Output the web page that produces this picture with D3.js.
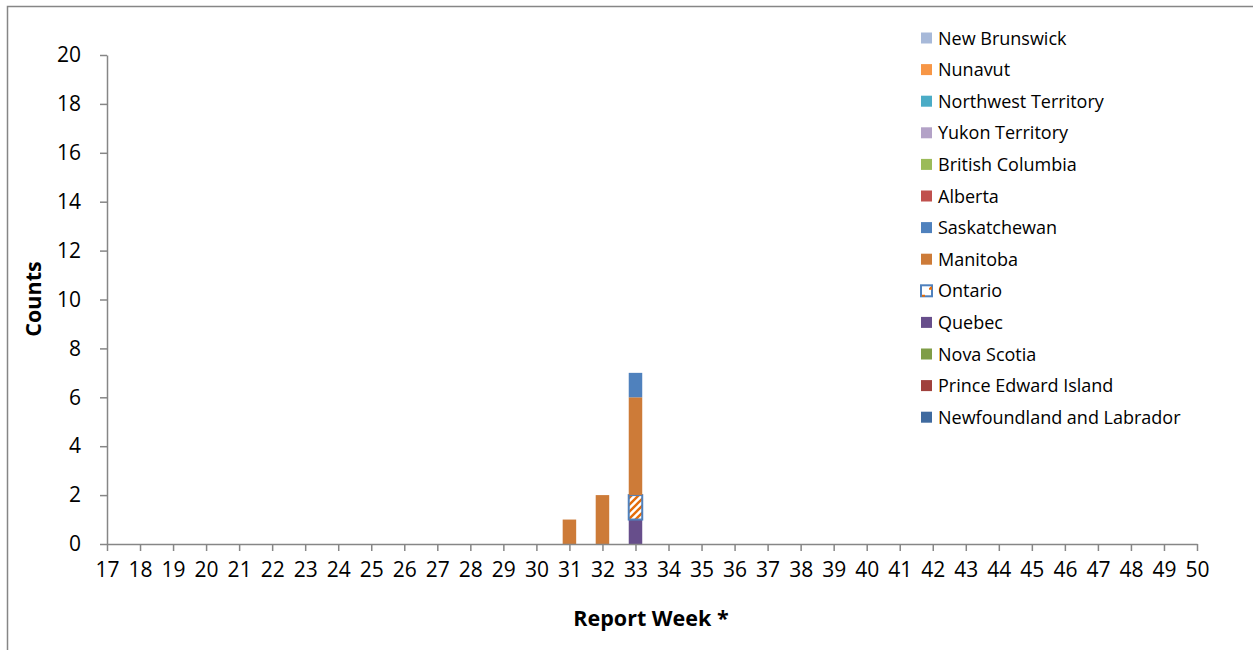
<!DOCTYPE html>
<html>
<head>
  <script src="https://d3js.org/d3.v7.min.js"></script>
  <style>
    body { margin: 0; background: #fff; }
    text { font-family: "Open Sans", sans-serif; fill: #000; }
  </style>
</head>
<body>
  <svg id="svg" width="1253" height="650"></svg>
  <script>
    // ************************ Data ************************
    const weeks = [17, 18, 19, 20, 21, 22, 23, 24, 25, 26, 27, 28, 29, 30, 31, 32, 33,
                   34, 35, 36, 37, 38, 39, 40, 41, 42, 43, 44, 45, 46, 47, 48, 49, 50];
    const yTicks = [0, 2, 4, 6, 8, 10, 12, 14, 16, 18, 20];

    // stacking order, bottom to top (legend shows it reversed)
    const provinces = ["Newfoundland and Labrador", "Prince Edward Island", "Nova Scotia", "Quebec",
      "Ontario", "Manitoba", "Saskatchewan", "Alberta", "British Columbia", "Yukon Territory",
      "Northwest Territory", "Nunavut", "New Brunswick"];
    const colors = ["#3F6A9F", "#A0413D", "#7F9D47", "#674E8B",
      "url(#ontarioPattern)", "#CD7B38", "#4F81BD", "#C0504D", "#9BBB59", "#B3A2C7",
      "#4BACC6", "#F79646", "#A7B9D9"];

    // counts per week, weeks 17..50
    const newfoundland = [0,0,0,0,0,0,0,0,0,0,0,0,0,0,0,0,0,0,0,0,0,0,0,0,0,0,0,0,0,0,0,0,0,0];
    const pei          = [0,0,0,0,0,0,0,0,0,0,0,0,0,0,0,0,0,0,0,0,0,0,0,0,0,0,0,0,0,0,0,0,0,0];
    const novaScotia   = [0,0,0,0,0,0,0,0,0,0,0,0,0,0,0,0,0,0,0,0,0,0,0,0,0,0,0,0,0,0,0,0,0,0];
    const quebec       = [0,0,0,0,0,0,0,0,0,0,0,0,0,0,0,0,1,0,0,0,0,0,0,0,0,0,0,0,0,0,0,0,0,0];
    const ontario      = [0,0,0,0,0,0,0,0,0,0,0,0,0,0,0,0,1,0,0,0,0,0,0,0,0,0,0,0,0,0,0,0,0,0];
    const manitoba     = [0,0,0,0,0,0,0,0,0,0,0,0,0,0,1,2,4,0,0,0,0,0,0,0,0,0,0,0,0,0,0,0,0,0];
    const saskatchewan = [0,0,0,0,0,0,0,0,0,0,0,0,0,0,0,0,1,0,0,0,0,0,0,0,0,0,0,0,0,0,0,0,0,0];
    const alberta      = [0,0,0,0,0,0,0,0,0,0,0,0,0,0,0,0,0,0,0,0,0,0,0,0,0,0,0,0,0,0,0,0,0,0];
    const bc           = [0,0,0,0,0,0,0,0,0,0,0,0,0,0,0,0,0,0,0,0,0,0,0,0,0,0,0,0,0,0,0,0,0,0];
    const yukon        = [0,0,0,0,0,0,0,0,0,0,0,0,0,0,0,0,0,0,0,0,0,0,0,0,0,0,0,0,0,0,0,0,0,0];
    const nwt          = [0,0,0,0,0,0,0,0,0,0,0,0,0,0,0,0,0,0,0,0,0,0,0,0,0,0,0,0,0,0,0,0,0,0];
    const nunavut      = [0,0,0,0,0,0,0,0,0,0,0,0,0,0,0,0,0,0,0,0,0,0,0,0,0,0,0,0,0,0,0,0,0,0];
    const newBrunswick = [0,0,0,0,0,0,0,0,0,0,0,0,0,0,0,0,0,0,0,0,0,0,0,0,0,0,0,0,0,0,0,0,0,0];
    const seriesValues = [newfoundland, pei, novaScotia, quebec, ontario, manitoba, saskatchewan,
      alberta, bc, yukon, nwt, nunavut, newBrunswick];

    // table for d3.stack
    const table = weeks.map((w, i) => {
      const row = { week: w };
      provinces.forEach((p, j) => row[p] = seriesValues[j][i]);
      return row;
    });

    const svg = d3.select("#svg");
    const axisColor = "#868686";

    // outer chart border
    svg.append("path")
      .attr("d", "M7.5,660 L7.5,6.5 L1260,6.5")
      .attr("fill", "none").attr("stroke", axisColor).attr("stroke-width", 1.5);

    // Ontario hatch pattern
    const defs = svg.append("defs");
    const pat = defs.append("pattern").attr("id", "ontarioPattern")
      .attr("patternUnits", "userSpaceOnUse").attr("width", 7).attr("height", 7);
    pat.append("rect").attr("width", 7).attr("height", 7).attr("fill", "#fff");
    pat.append("path").attr("d", "M0,7 L7,0 M-1,1 L1,-1 M6,8 L8,6").attr("stroke", "#E46C0A")
      .attr("stroke-width", 2.4);

    // ************************ Scales ************************
    const x = d3.scalePoint().domain(weeks).range([107, 1197]);
    const y = d3.scaleLinear().domain([0, 20]).range([544, 55]);
    const barW = 13.5;

    // ************************ Bars ************************
    const stacked = d3.stack().keys(provinces)(table);
    const layers = svg.append("g").selectAll("g")
      .data(stacked).join("g")
      .attr("fill", (d, i) => colors[i])
      .attr("stroke", (d, i) => provinces[i] === "Ontario" ? "#4F81BD" : "none")
      .attr("stroke-width", 2);
    layers.selectAll("rect")
      .data(d => d.filter(s => s[1] - s[0] > 0))
      .join("rect")
      .attr("x", d => x(d.data.week) - barW / 2)
      .attr("width", barW)
      .attr("y", d => y(d[1]))
      .attr("height", d => y(d[0]) - y(d[1]));

    // ************************ Axes ************************
    const yAxis = svg.append("g").attr("transform", "translate(107,0)")
      .call(d3.axisLeft(y).tickValues(yTicks).tickSize(7).tickSizeOuter(0).tickPadding(19));
    const xAxis = svg.append("g").attr("transform", "translate(0,544)")
      .call(d3.axisBottom(x).tickSize(7).tickSizeOuter(0).tickPadding(11));
    [yAxis, xAxis].forEach(a => {
      a.selectAll("path, line").attr("stroke", axisColor).attr("stroke-width", 1.5);
      a.selectAll("text").attr("font-size", 21).attr("font-family", "Open Sans").attr("fill", "#000");
    });

    // axis titles
    svg.append("text").attr("transform", "translate(41,299) rotate(-90)")
      .attr("text-anchor", "middle").attr("font-size", 21.5).attr("font-weight", "bold")
      .text("Counts");
    svg.append("text").attr("x", 651).attr("y", 626)
      .attr("text-anchor", "middle").attr("font-size", 21.5).attr("font-weight", "bold")
      .text("Report Week *");

    // ************************ Legend ************************
    const legendOrder = provinces.map((p, i) => i).reverse();
    const legend = svg.append("g").selectAll("g")
      .data(legendOrder).join("g")
      .attr("transform", (d, k) => `translate(921,${38 + k * 31.6})`);
    legend.append("rect")
      .attr("x", 0).attr("y", -5.5).attr("width", 11).attr("height", 11)
      .attr("fill", i => provinces[i] === "Ontario" ? "#fff" : colors[i])
      .attr("stroke", i => provinces[i] === "Ontario" ? "#4F81BD" : "none")
      .attr("stroke-width", 2);
    legend.filter(i => provinces[i] === "Ontario").append("path")
      .attr("d", "M1,5 L4,5 M8,-2 L10,-2 L10,-4")
      .attr("stroke", "#E46C0A").attr("stroke-width", 2).attr("fill", "none");
    legend.append("text")
      .attr("x", 17).attr("y", 6.5)
      .attr("font-size", 18)
      .text(i => provinces[i]);
  </script>
</body>
</html>
